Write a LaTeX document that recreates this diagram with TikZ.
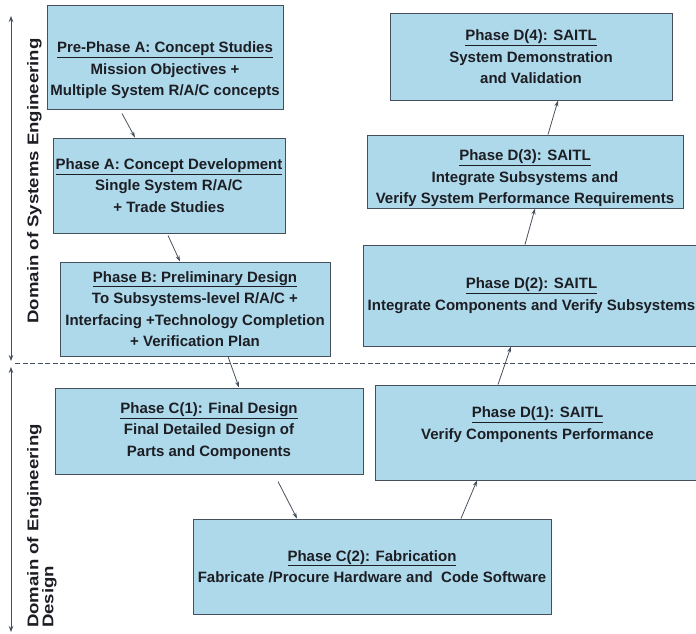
\documentclass[tikz,border=0pt]{standalone}
\usepackage{fontspec}
\setmainfont{Liberation Sans}
\newfontfamily\domainfont[FakeStretch=1.2]{Liberation Sans}
\usetikzlibrary{arrows.meta}

\definecolor{phasefill}{RGB}{174,217,234}
\definecolor{phaseline}{RGB}{70,80,92}
\definecolor{phasetext}{RGB}{28,30,36}

\begin{document}
\begin{tikzpicture}[x=1pt, y=-1pt,
        phase/.style={draw=phaseline, fill=phasefill, line width=1pt, align=center,
            inner sep=0pt, text=phasetext,
            font=\bfseries\fontsize{15}{21.5}\selectfont},
        flow/.style={-{Stealth[length=6pt, width=4pt]}, line width=0.8pt, phaseline},
        domainlabel/.style={rotate=90, inner sep=0pt, text=phasetext,
            font=\domainfont\bfseries\fontsize{15.5}{15}\selectfont},
        sideaxis/.style={{Stealth[length=6pt, width=4.5pt]}-{Stealth[length=6pt, width=4.5pt]},
            line width=0.8pt, phaseline}]
            %\draw[lightgray] (0, 0) grid[step=50] (696, 634);
            \useasboundingbox (0, 0) rectangle (696, 634);
            \node[phase, minimum width=236, minimum height=103, text height=80pt] (prea) at (165, 57.5)
                {\underline{Pre-Phase A: Concept Studies}\\Mission Objectives +\\Multiple System R/A/C concepts};
            \node[phase, minimum width=232, minimum height=95] (phasea) at (169, 185.5)
                {\underline{Phase A: Concept Development}\\Single System R/A/C\\+ Trade Studies};
            \node[phase, minimum width=270, minimum height=94] (phaseb) at (195, 309)
                {\underline{Phase B: Preliminary Design}\\To Subsystems-level R/A/C +\\Interfacing +Technology Completion\\+ Verification Plan};
            \node[phase, minimum width=308, minimum height=86] (phasec1) at (209, 431)
                {\underline{Phase C(1): Final Design}\\Final Detailed Design of\\Parts and Components};
            \node[phase, minimum width=358, minimum height=95] (phasec2) at (372, 566.5)
                {\underline{Phase C(2): Fabrication}\\Fabricate /Procure Hardware and\ \ Code Software};
            \node[phase, minimum width=325, minimum height=95, text depth=19pt] (phased1) at (537.5, 432.5)
                {\underline{Phase D(1): SAITL}\\Verify Components Performance};
            \node[phase, minimum width=337, minimum height=101] (phased2) at (531.5, 295.5)
                {\underline{Phase D(2): SAITL}\\Integrate Components and Verify Subsystems};
            \node[phase, minimum width=316, minimum height=73, text height=68pt] (phased3) at (525, 171.5)
                {\underline{Phase D(3): SAITL}\\Integrate Subsystems and\\Verify System Performance Requirements};
            \node[phase, minimum width=282, minimum height=86] (phased4) at (531, 57)
                {\underline{Phase D(4): SAITL}\\System Demonstration\\and Validation};
            \draw[flow] ([xshift=-43pt, yshift=-4pt]prea.south) -- ([xshift=-34pt]phasea.north);
            \draw[flow] ([xshift=-1pt, yshift=-2pt]phasea.south) -- ([xshift=-15pt]phaseb.north);
            \draw[flow] ([xshift=33pt]phaseb.south) -- ([xshift=30pt]phasec1.north);
            \draw[flow] ([xshift=69pt, yshift=-7pt]phasec1.south) -- ([xshift=-75pt]phasec2.north);
            \draw[flow] ([xshift=89pt]phasec2.north) -- ([xshift=-60.5pt]phased1.south);
            \draw[flow] ([xshift=-39.5pt]phased1.north) -- ([xshift=-20.5pt]phased2.south);
            \draw[flow] ([xshift=-6.5pt]phased2.north) -- ([xshift=10pt]phased3.south);
            \draw[flow] ([xshift=23pt]phased3.north) -- ([xshift=27pt]phased4.south);
            \coordinate (setop) at (11, 16);
            \coordinate (sebot) at (11, 361);
            \coordinate (edtop) at (11, 367);
            \coordinate (edbot) at (11, 632);
            \coordinate (splitl) at (15, 363);
            \coordinate (splitr) at (696, 363);
            \draw[sideaxis] (setop) -- (sebot);
            \draw[sideaxis] (edtop) -- (edbot);
            \draw[phaseline, line width=0.8pt, dash pattern=on 5pt off 2.5pt] (splitl) -- (splitr);
            \node[domainlabel, anchor=north] (sedomain) at (27, 181) {Domain of Systems Engineering};
            \node[domainlabel, anchor=north west, align=left] (eddomain) at (27, 628) {Domain of Engineering\\Design};
        \end{tikzpicture}
\end{document}
